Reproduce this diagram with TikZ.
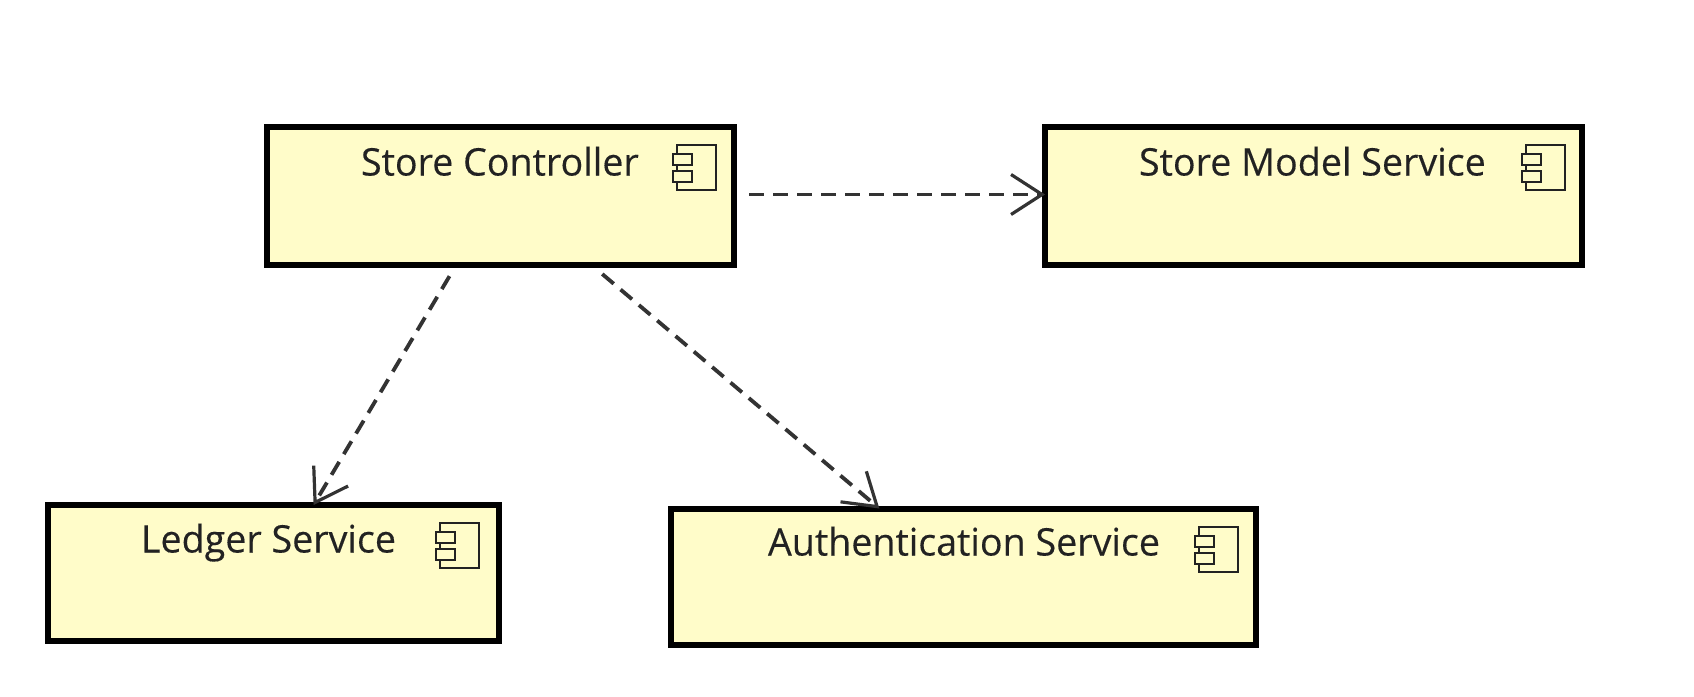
\documentclass[tikz,border=0pt]{standalone}
\usepackage{fontspec}
\setmainfont{Open Sans}[FakeStretch=0.99,FakeBold=0.3]
\usetikzlibrary{arrows.meta,calc}
\definecolor{boxfill}{HTML}{FFFCC9}
\definecolor{inkdark}{HTML}{222222}
\definecolor{edgeink}{HTML}{333333}
\tikzset{
  compbox/.style={draw=black,fill=boxfill,line width=6pt,rectangle,outer sep=0pt,inner sep=0pt},
  complabel/.style={anchor=base west,inner sep=0pt,outer sep=0pt,text=inkdark,font=\fontsize{38}{42}\selectfont},
  iconline/.style={draw=inkdark,line width=2pt},
  dep/.style={draw=edgeink,line width=3.8pt,dash pattern=on 15pt off 9pt,
    -{Straight Barb[length=31pt,width=40pt,line width=3.2pt]}},
}
\newcommand{\compicon}[2]{%
  \path[iconline,fill=boxfill] ($(#1.north east)+(-57+#2,18)$) rectangle ($(#1.north east)+(-18+#2,63)$);
  \path[iconline,fill=boxfill] ($(#1.north east)+(-61+#2,27)$) rectangle ($(#1.north east)+(-42+#2,38)$);
  \path[iconline,fill=boxfill] ($(#1.north east)+(-61+#2,44)$) rectangle ($(#1.north east)+(-42+#2,55)$);
}
\begin{document}
\begin{tikzpicture}[x=1pt,y=-1pt]
\useasboundingbox[fill=white] (0,0) rectangle (1694,696);
\node[compbox,minimum width=467pt,minimum height=138pt] (ctrl) at (500.5,196) {};
\node[compbox,minimum width=537pt,minimum height=138pt] (model) at (1313.5,196) {};
\node[compbox,minimum width=451pt,minimum height=136pt] (ledger) at (273,573) {};
\node[compbox,minimum width=585pt,minimum height=136pt] (auth) at (963,576.5) {};
\node[complabel] (ctrltext) at (361,175.5) {Store Controller};
\node[complabel] (modeltext) at (1139,175.5) {Store Model Service};
\node[complabel] (ledgertext) at (141,552.5) {Ledger Service};
\node[complabel] (authtext) at (768,555.5) {Authentication Service};
\compicon{ctrl}{0}
\compicon{model}{1}
\compicon{ledger}{-2}
\compicon{auth}{0}
\coordinate (c0) at ($(ctrl.east)+(0,-1.5)$);
\coordinate (m0) at ($(model.west)+(0,-1.5)$);
\coordinate (c1) at ($(ctrl.south west)!0.405!(ctrl.south east)$);
\coordinate (c2) at ($(ctrl.south west)!0.695!(ctrl.south east)$);
\coordinate (l1) at ($(ledger.north west)!0.59!(ledger.north east)$);
\coordinate (a1) at ($(auth.north west)!0.357!(auth.north east)$);
\draw[dep,shorten <=15pt] (c0) -- (m0);
\draw[dep,shorten <=13pt] (c1) -- (l1);
\draw[dep,shorten <=14pt] (c2) -- (a1);
\end{tikzpicture}
\end{document}
